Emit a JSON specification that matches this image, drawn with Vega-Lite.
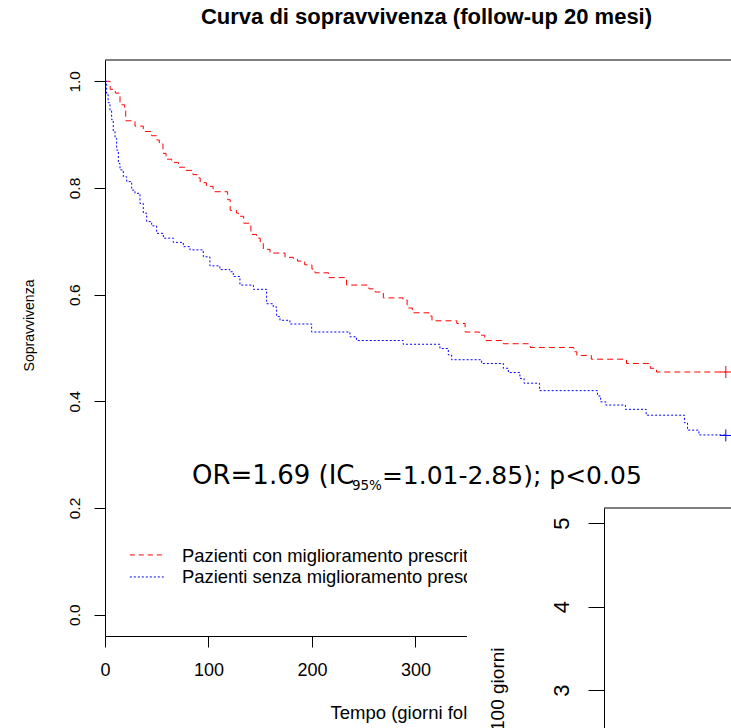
{
  "$schema": "https://vega.github.io/schema/vega-lite/v6.json",
  "width": 626,
  "height": 576,
  "autosize": {"type": "none"},
  "padding": {"left": 105, "top": 60, "right": 0, "bottom": 92},
  "background": "white",
  "config": {
    "view": {"stroke": null},
    "font": "Liberation Sans",
    "axis": {"domainColor": "black", "tickColor": "black", "labelColor": "black", "titleColor": "black", "grid": false, "domainWidth": 1, "tickWidth": 1}
  },
  "title": {
    "text": "Curva di sopravvivenza (follow-up 20 mesi)",
    "font": "Liberation Sans", "fontSize": 22, "fontWeight": "bold", "color": "black",
    "anchor": "middle", "frame": "group", "dx": 8.5, "offset": 13.5, "baseline": "alphabetic"
  },
  "datasets": {
    "km": [
      {"t": 0, "S": 1.0, "group": "con"}, {"t": 5, "S": 0.985, "group": "con"}, {"t": 10, "S": 0.978, "group": "con"},
      {"t": 14.5, "S": 0.956, "group": "con"}, {"t": 19, "S": 0.946, "group": "con"}, {"t": 20, "S": 0.926, "group": "con"},
      {"t": 29, "S": 0.916, "group": "con"}, {"t": 37, "S": 0.906, "group": "con"}, {"t": 45, "S": 0.898, "group": "con"},
      {"t": 50, "S": 0.89, "group": "con"}, {"t": 52.5, "S": 0.883, "group": "con"}, {"t": 56, "S": 0.865, "group": "con"},
      {"t": 59, "S": 0.854, "group": "con"}, {"t": 64.5, "S": 0.848, "group": "con"}, {"t": 71, "S": 0.839, "group": "con"},
      {"t": 77, "S": 0.833, "group": "con"}, {"t": 85, "S": 0.825, "group": "con"}, {"t": 89, "S": 0.819, "group": "con"},
      {"t": 92, "S": 0.81, "group": "con"}, {"t": 98, "S": 0.803, "group": "con"}, {"t": 104.5, "S": 0.793, "group": "con"},
      {"t": 118.5, "S": 0.778, "group": "con"}, {"t": 121, "S": 0.758, "group": "con"}, {"t": 127, "S": 0.753, "group": "con"},
      {"t": 129, "S": 0.747, "group": "con"}, {"t": 134, "S": 0.734, "group": "con"}, {"t": 141, "S": 0.713, "group": "con"},
      {"t": 146.5, "S": 0.706, "group": "con"}, {"t": 150, "S": 0.696, "group": "con"}, {"t": 153, "S": 0.685, "group": "con"},
      {"t": 159.5, "S": 0.678, "group": "con"}, {"t": 174, "S": 0.67, "group": "con"}, {"t": 182, "S": 0.668, "group": "con"},
      {"t": 186, "S": 0.663, "group": "con"}, {"t": 193, "S": 0.656, "group": "con"}, {"t": 200, "S": 0.648, "group": "con"},
      {"t": 203, "S": 0.641, "group": "con"}, {"t": 216, "S": 0.632, "group": "con"}, {"t": 233.5, "S": 0.618, "group": "con"},
      {"t": 255, "S": 0.611, "group": "con"}, {"t": 261, "S": 0.605, "group": "con"}, {"t": 269, "S": 0.594, "group": "con"},
      {"t": 288, "S": 0.59, "group": "con"}, {"t": 292, "S": 0.575, "group": "con"}, {"t": 297, "S": 0.566, "group": "con"},
      {"t": 313, "S": 0.56, "group": "con"}, {"t": 316, "S": 0.551, "group": "con"}, {"t": 340, "S": 0.546, "group": "con"},
      {"t": 348, "S": 0.53, "group": "con"}, {"t": 362, "S": 0.524, "group": "con"}, {"t": 367, "S": 0.514, "group": "con"},
      {"t": 385, "S": 0.508, "group": "con"}, {"t": 411, "S": 0.501, "group": "con"}, {"t": 453, "S": 0.493, "group": "con"},
      {"t": 456, "S": 0.486, "group": "con"}, {"t": 470, "S": 0.479, "group": "con"}, {"t": 504, "S": 0.471, "group": "con"},
      {"t": 527, "S": 0.462, "group": "con"}, {"t": 533, "S": 0.455, "group": "con"}, {"t": 600, "S": 0.455, "group": "con"},
      {"t": 0, "S": 1.0, "group": "senza"}, {"t": 1.6, "S": 0.977, "group": "senza"}, {"t": 3, "S": 0.96, "group": "senza"},
      {"t": 4.8, "S": 0.946, "group": "senza"}, {"t": 6.4, "S": 0.928, "group": "senza"}, {"t": 8, "S": 0.906, "group": "senza"},
      {"t": 9.7, "S": 0.893, "group": "senza"}, {"t": 11.3, "S": 0.871, "group": "senza"}, {"t": 12.9, "S": 0.846, "group": "senza"},
      {"t": 14.5, "S": 0.834, "group": "senza"}, {"t": 17.7, "S": 0.821, "group": "senza"}, {"t": 21, "S": 0.812, "group": "senza"},
      {"t": 25.8, "S": 0.796, "group": "senza"}, {"t": 29, "S": 0.79, "group": "senza"}, {"t": 33.8, "S": 0.771, "group": "senza"},
      {"t": 37, "S": 0.753, "group": "senza"}, {"t": 40.3, "S": 0.737, "group": "senza"}, {"t": 45.1, "S": 0.729, "group": "senza"},
      {"t": 49.9, "S": 0.715, "group": "senza"}, {"t": 56.4, "S": 0.706, "group": "senza"}, {"t": 66, "S": 0.698, "group": "senza"},
      {"t": 75.7, "S": 0.69, "group": "senza"}, {"t": 82.1, "S": 0.684, "group": "senza"}, {"t": 95, "S": 0.671, "group": "senza"},
      {"t": 101.4, "S": 0.654, "group": "senza"}, {"t": 111, "S": 0.647, "group": "senza"}, {"t": 120.8, "S": 0.643, "group": "senza"},
      {"t": 124, "S": 0.634, "group": "senza"}, {"t": 130.4, "S": 0.618, "group": "senza"}, {"t": 143.4, "S": 0.61, "group": "senza"},
      {"t": 156.2, "S": 0.583, "group": "senza"}, {"t": 162.6, "S": 0.577, "group": "senza"}, {"t": 165.9, "S": 0.559, "group": "senza"},
      {"t": 169.1, "S": 0.552, "group": "senza"}, {"t": 178.7, "S": 0.545, "group": "senza"}, {"t": 199.7, "S": 0.53, "group": "senza"},
      {"t": 236.7, "S": 0.521, "group": "senza"}, {"t": 243.1, "S": 0.514, "group": "senza"}, {"t": 288.2, "S": 0.507, "group": "senza"},
      {"t": 323.7, "S": 0.499, "group": "senza"}, {"t": 331.8, "S": 0.487, "group": "senza"}, {"t": 335, "S": 0.478, "group": "senza"},
      {"t": 364, "S": 0.471, "group": "senza"}, {"t": 385, "S": 0.462, "group": "senza"}, {"t": 389.8, "S": 0.454, "group": "senza"},
      {"t": 401, "S": 0.443, "group": "senza"}, {"t": 405, "S": 0.434, "group": "senza"}, {"t": 420, "S": 0.42, "group": "senza"},
      {"t": 476, "S": 0.41, "group": "senza"}, {"t": 479, "S": 0.399, "group": "senza"}, {"t": 484, "S": 0.393, "group": "senza"},
      {"t": 503, "S": 0.385, "group": "senza"}, {"t": 523, "S": 0.374, "group": "senza"}, {"t": 560, "S": 0.36, "group": "senza"},
      {"t": 563, "S": 0.346, "group": "senza"}, {"t": 574, "S": 0.337, "group": "senza"}, {"t": 600, "S": 0.337, "group": "senza"}
    ],
    "cens": [
      {"t": 600, "S": 0.455, "group": "con"},
      {"t": 600, "S": 0.336, "group": "senza"}
    ]
  },
  "layer": [
    {
      "layer": [
        {
          "data": {"name": "km"},
          "mark": {"type": "line", "interpolate": "step-after", "strokeWidth": 1},
          "encoding": {
            "x": {
              "field": "t", "type": "quantitative",
              "scale": {"domain": [0, 605], "nice": false, "zero": false},
              "axis": {
                "title": "Tempo (giorni follow-up)", "values": [0, 100, 200, 300, 400, 500, 600], "format": "d",
                "tickSize": 11, "labelPadding": 14, "labelFont": "Liberation Sans", "labelFontSize": 18,
                "labelAngle": 0, "labelBaseline": "top", "labelAlign": "center", "labelFlush": false, "labelOverlap": false,
                "titleFont": "Liberation Sans", "titleFontSize": 18.5, "titleFontWeight": "normal",
                "titleX": 225, "titleY": 82, "titleAlign": "left", "titleBaseline": "alphabetic", "titleAngle": 0
              }
            },
            "y": {
              "field": "S", "type": "quantitative",
              "scale": {"domain": [-0.04, 1.04], "nice": false, "zero": false},
              "axis": {
                "title": "Sopravvivenza", "values": [0, 0.2, 0.4, 0.6, 0.8, 1], "format": ".1f",
                "tickSize": 11, "labelPadding": 15, "labelAngle": 270, "labelAlign": "center", "labelBaseline": "alphabetic",
                "labelFont": "Liberation Sans", "labelFontSize": 15.5, "labelFlush": false, "labelOverlap": false,
                "titleFont": "Liberation Sans", "titleFontSize": 14, "titleFontWeight": "normal",
                "titleAngle": 270, "titleX": -72, "titleY": 265, "titleAlign": "center", "titleBaseline": "alphabetic"
              }
            },
            "color": {"field": "group", "type": "nominal", "scale": {"domain": ["con", "senza"], "range": ["#ff0000", "#0000ff"]}, "legend": null},
            "strokeDash": {"field": "group", "type": "nominal", "scale": {"domain": ["con", "senza"], "range": [[6, 4], [2, 2]]}, "legend": null}
          }
        },
        {
          "data": {"name": "cens"},
          "mark": {"type": "point", "shape": "M-1,0L1,0M0,-1L0,1", "size": 144, "filled": false, "strokeWidth": 1, "opacity": 1},
          "encoding": {
            "x": {"field": "t", "type": "quantitative"},
            "y": {"field": "S", "type": "quantitative"},
            "color": {"field": "group", "type": "nominal", "legend": null}
          }
        },
        {
          "data": {"values": [{}]},
          "mark": {"type": "rule", "color": "#ff0000", "strokeDash": [5, 4], "strokeWidth": 1},
          "encoding": {"x": {"datum": 24, "type": "quantitative"}, "x2": {"datum": 58}, "y": {"datum": 0.112, "type": "quantitative"}}
        },
        {
          "data": {"values": [{}]},
          "mark": {"type": "rule", "color": "#0000ff", "strokeDash": [2, 2], "strokeWidth": 1},
          "encoding": {"x": {"datum": 24, "type": "quantitative"}, "x2": {"datum": 58}, "y": {"datum": 0.0707, "type": "quantitative"}}
        },
        {
          "data": {"values": [{}]},
          "mark": {"type": "text", "text": "Pazienti con miglioramento prescrittivo", "align": "left", "baseline": "alphabetic", "font": "Liberation Sans", "fontSize": 18.4, "color": "black"},
          "encoding": {"x": {"datum": 74.4, "type": "quantitative"}, "y": {"datum": 0.0993, "type": "quantitative"}}
        },
        {
          "data": {"values": [{}]},
          "mark": {"type": "text", "text": "Pazienti senza miglioramento prescrittivo", "align": "left", "baseline": "alphabetic", "font": "Liberation Sans", "fontSize": 18.4, "color": "black"},
          "encoding": {"x": {"datum": 74.4, "type": "quantitative"}, "y": {"datum": 0.0594, "type": "quantitative"}}
        },
        {
          "data": {"values": [{}]},
          "mark": {"type": "text", "text": "OR=1.69 (IC", "align": "left", "baseline": "alphabetic", "font": "DejaVu Sans", "fontSize": 26, "color": "black"},
          "encoding": {"x": {"datum": 84.1, "type": "quantitative"}, "y": {"datum": 0.245, "type": "quantitative"}}
        },
        {
          "data": {"values": [{}]},
          "mark": {"type": "text", "text": "95%", "align": "left", "baseline": "alphabetic", "font": "DejaVu Sans", "fontSize": 13.5, "color": "black"},
          "encoding": {"x": {"datum": 238.6, "type": "quantitative"}, "y": {"datum": 0.2338, "type": "quantitative"}}
        },
        {
          "data": {"values": [{}]},
          "mark": {"type": "text", "text": "=1.01-2.85); p<0.05", "align": "left", "baseline": "alphabetic", "font": "DejaVu Sans", "fontSize": 25, "color": "black"},
          "encoding": {"x": {"datum": 267.6, "type": "quantitative"}, "y": {"datum": 0.245, "type": "quantitative"}}
        },
        {
          "data": {"values": [{}]},
          "mark": {"type": "rule", "color": "black", "strokeWidth": 1},
          "encoding": {"x": {"datum": 0, "type": "quantitative"}, "x2": {"datum": 700}, "y": {"datum": 1.04, "type": "quantitative"}}
        },
        {
          "data": {"values": [{}]},
          "mark": {"type": "rect", "color": "white", "opacity": 1},
          "encoding": {"x": {"datum": 349.8, "type": "quantitative"}, "x2": {"datum": 700}, "y": {"datum": 0.221, "type": "quantitative"}, "y2": {"datum": -0.4}}
        }
      ]
    },
    {
      "data": {"values": [{}]},
      "mark": {"type": "rule", "color": "black", "strokeWidth": 1},
      "encoding": {
        "x": {"datum": 482.3, "type": "quantitative"},
        "x2": {"datum": 700},
        "y": {
          "datum": 5.18, "type": "quantitative",
          "scale": {"domain": [2.5, 5.18], "range": [671.75, 448], "nice": false, "zero": false},
          "axis": {
            "orient": "left", "offset": -499, "values": [3, 4, 5], "format": "d", "zindex": 1,
            "tickSize": 16, "labelPadding": 20, "labelAngle": 270, "labelAlign": "center", "labelBaseline": "alphabetic",
            "labelFont": "Liberation Sans", "labelFontSize": 22, "labelFlush": false, "labelOverlap": false,
            "title": "100 giorni", "titleFont": "Liberation Sans", "titleFontSize": 19, "titleFontWeight": "normal",
            "titleAngle": 270, "titleX": -101, "titleY": 587, "titleAlign": "right", "titleBaseline": "alphabetic"
          }
        }
      }
    }
  ],
  "resolve": {"scale": {"y": "independent"}, "axis": {"y": "independent"}}
}
